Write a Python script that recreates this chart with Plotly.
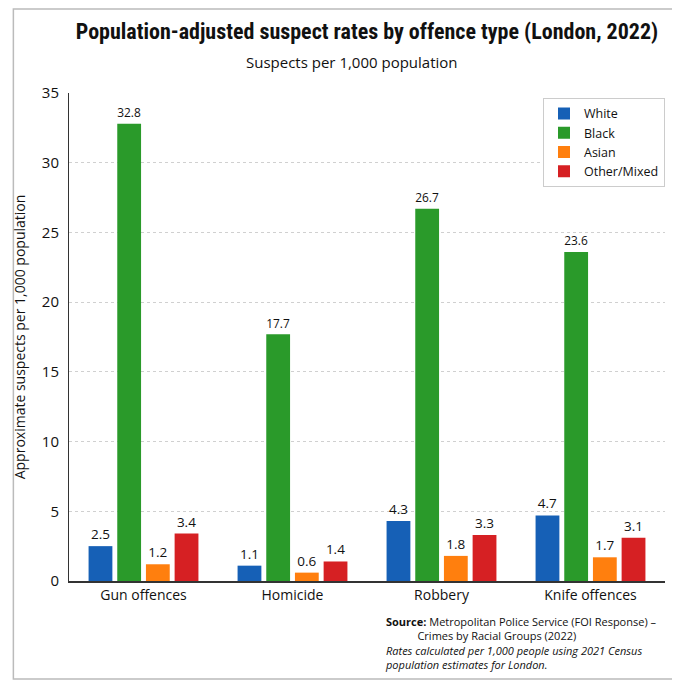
import plotly.graph_objects as go

categories = ["Gun offences", "Homicide", "Robbery", "Knife offences"]
white = [2.5, 1.1, 4.3, 4.7]
black = [32.8, 17.7, 26.7, 23.6]
asian = [1.2, 0.6, 1.8, 1.7]
other = [3.4, 1.4, 3.3, 3.1]

series = [
    ("White", white, "#1660b6"),
    ("Black", black, "#2a9a2a"),
    ("Asian", asian, "#ff7f0e"),
    ("Other/Mixed", other, "#d62023"),
]

fig = go.Figure()
for name, vals, col in series:
    fig.add_trace(go.Bar(
        name=name, x=categories, y=vals, marker_color=col,
        marker_line_width=0,
        text=[f"{v:.1f}" for v in vals], textposition="outside",
        textfont=dict(size=13.5, color="#111"), cliponaxis=False,
    ))

L, T, R, B = 57, 85, 23, 107
PW, PH = 680 - L - R, 680 - T - B

fig.update_layout(
    width=680, height=680,
    paper_bgcolor="white", plot_bgcolor="white",
    font=dict(family="Open Sans, DejaVu Sans", color="#111"),
    barmode="group", bargap=0.23, bargroupgap=0.17,
    margin=dict(l=L, r=R, t=T, b=B),
    title=dict(
        text="<b>Population-adjusted suspect rates by offence type (London, 2022)</b>",
        x=(L + 302) / 680, xanchor="center", y=1 - 23 / 680, yanchor="middle",
        font=dict(family="Liberation Sans Narrow, Roboto Condensed, Liberation Sans", size=22, color="#111"),
    ),
    legend=dict(
        x=1.0, y=0.99, xanchor="right", yanchor="top",
        bordercolor="#cccccc", borderwidth=1, bgcolor="white",
        font=dict(size=12.5), tracegroupgap=2, itemwidth=30,
    ),
    yaxis=dict(
        range=[0, 35], dtick=5, showgrid=True, gridcolor="#d0d0d0", griddash="dot",
        showline=True, linecolor="#333", linewidth=1, ticks="",
        tickfont=dict(size=15), ticklabelstandoff=6,
        title=dict(text="Approximate suspects per 1,000 population", font=dict(size=14), standoff=12),
        zeroline=False,
    ),
    xaxis=dict(
        showline=True, linecolor="#333", linewidth=1.5, tickfont=dict(size=14), ticks="",
    ),
)

fig.add_annotation(text="Suspects per 1,000 population", xref="paper", yref="paper",
                   x=(342 - L) / PW, y=1 + (T - 54) / PH,
                   xanchor="center", yanchor="middle", showarrow=False,
                   font=dict(size=15, color="#111"))

fig.add_annotation(
    text="<b>Source:</b> Metropolitan Police Service (FOI Response) –<br>           Crimes by Racial Groups (2022)<br>"
         "<i>Rates calculated per 1,000 people using 2021 Census<br>population estimates for London.</i>",
    xref="paper", yref="paper", x=(373 - L) / PW, y=-(604 - T - PH) / PH, xanchor="left", yanchor="top",
    align="left", showarrow=False, font=dict(size=11, color="#111"),
)

fig.add_shape(type="rect", xref="paper", yref="paper",
              x0=-(L - 1) / PW, y0=-(671 - T - PH) / PH, x1=(671 - L) / PW, y1=1 + (T - 1) / PH,
              line=dict(color="#bbbbbb", width=1.5), fillcolor="rgba(0,0,0,0)", layer="below")

fig.write_html("out.html")
